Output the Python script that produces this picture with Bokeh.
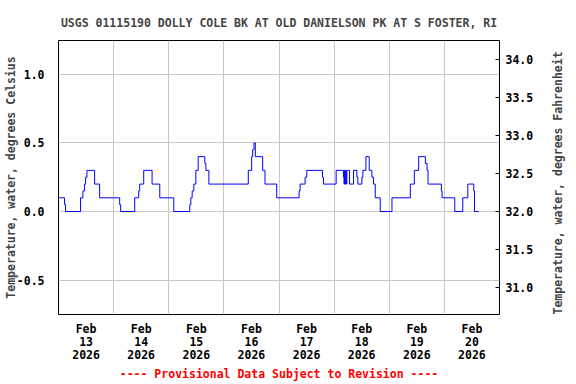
import math
import pandas as pd
from bokeh.plotting import figure
from bokeh.models import Range1d, LinearAxis, FixedTicker, PrintfTickFormatter
from bokeh.embed import file_html
from bokeh.resources import INLINE

station_title = "USGS 01115190 DOLLY COLE BK AT OLD DANIELSON PK AT S FOSTER, RI"
provisional = "---- Provisional Data Subject to Revision ----"
y_label_c = "Temperature, water, degrees Celsius"
y_label_f = "Temperature, water, degrees Fahrenheit"

start_time = "2026-02-13 00:00"
end_time = "2026-02-21 00:00"

# hours since start (change points) and water temperature, deg C
hours = [0.0, 2.63, 3.07, 9.61, 10.63, 11.36, 11.8, 12.38, 15.72, 17.9,
         26.63, 27.07, 33.18, 34.92, 35.36, 37.1, 40.74, 44.09,
         50.19, 57.18, 57.61, 58.2, 58.92, 59.8, 60.82, 63.72, 64.16, 65.47,
         82.63, 84.09, 84.52, 85.1, 85.69, 88.89, 89.9, 95.0,
         104.74, 105.18, 107.36, 108.09, 114.92, 115.36, 120.88,
         124.09, 124.3, 124.55, 124.8, 125.05, 125.3, 125.55, 125.83,
         126.71, 128.45, 129.9, 130.34, 132.09, 132.52, 133.83, 135.28,
         136.45, 137.18, 137.9, 140.08,
         145.18, 153.18, 154.92, 156.81, 159.72, 160.45, 160.89, 166.7, 167.0,
         172.53, 176.02, 178.2, 180.82, 181.1, 183.0]
temps_c = [0.1, 0.05, 0.0, 0.1, 0.15, 0.2, 0.25, 0.3, 0.2, 0.1,
           0.05, 0.0, 0.1, 0.15, 0.2, 0.3, 0.2, 0.1,
           0.0, 0.05, 0.1, 0.15, 0.2, 0.3, 0.4, 0.35, 0.3, 0.2,
           0.3, 0.4, 0.45, 0.5, 0.4, 0.3, 0.2, 0.1,
           0.15, 0.2, 0.25, 0.3, 0.25, 0.2, 0.3,
           0.25, 0.2, 0.3, 0.2, 0.3, 0.2, 0.3, 0.3,
           0.2, 0.3, 0.25, 0.2, 0.25, 0.3, 0.4, 0.3,
           0.25, 0.2, 0.1, 0.0,
           0.1, 0.2, 0.3, 0.4, 0.35, 0.3, 0.2, 0.15, 0.1,
           0.0, 0.1, 0.2, 0.15, 0.0, 0.0]

day_labels = ["Feb\n13\n2026", "Feb\n14\n2026", "Feb\n15\n2026", "Feb\n16\n2026",
              "Feb\n17\n2026", "Feb\n18\n2026", "Feb\n19\n2026", "Feb\n20\n2026"]
c_ticks = [-0.5, 0.0, 0.5, 1.0]
f_ticks = [31.0, 31.5, 32.0, 32.5, 33.0, 33.5, 34.0]
c_lo, c_hi = -0.75, 1.246

FONT = "DejaVu Sans Mono"
FS = "11.5px"

t0 = pd.Timestamp(start_time)
t1 = pd.Timestamp(end_time)
def ms(t):
    return t.value // 10**6

x = [ms(t0 + pd.Timedelta(hours=h)) for h in hours]
ndays = (t1 - t0).days
midnights = [ms(t0 + pd.Timedelta(days=d)) for d in range(ndays + 1)]
noons = [ms(t0 + pd.Timedelta(days=d, hours=12)) for d in range(ndays)]

p = figure(width=576, height=384, x_axis_type="datetime",
           x_range=Range1d(ms(t0), ms(t1)), y_range=Range1d(c_lo, c_hi),
           output_backend="svg", toolbar_location=None,
           min_border_left=58, min_border_right=77, min_border_top=40,
           min_border_bottom=68)
p.extra_y_ranges = {"f": Range1d(c_lo * 1.8 + 32, c_hi * 1.8 + 32)}

p.step(x, temps_c, mode="after", line_color="#0000ff", line_width=1)

p.outline_line_color = "black"
p.outline_line_width = 1
p.background_fill_color = "white"
p.border_fill_color = "white"

p.title.text = station_title
p.title.align = "center"
p.title.text_font = FONT
p.title.text_font_style = "bold"
p.title.text_font_size = FS
p.title.standoff = 22

p.xgrid.ticker = FixedTicker(ticks=midnights)
p.xgrid.grid_line_color = "#c8c8c8"
p.ygrid.grid_line_color = "#c8c8c8"

xa = p.xaxis[0]
xa.ticker = FixedTicker(ticks=noons)
xa.major_label_overrides = {n: lab for n, lab in zip(noons, day_labels)}
xa.major_tick_line_color = None
xa.minor_tick_line_color = None
xa.axis_line_color = None
xa.major_label_standoff = 1
xa.major_label_text_font = FONT
xa.major_label_text_font_style = "bold"
xa.major_label_text_font_size = FS
xa.major_label_text_color = "black"
xa.major_label_text_line_height = 0.96
xa.axis_label = provisional
xa.axis_label_text_font = FONT
xa.axis_label_text_font_style = "bold"
xa.axis_label_text_font_size = FS
xa.axis_label_text_color = "red"
xa.axis_label_text_line_height = 1.0
xa.axis_label_standoff = 2

ya = p.yaxis[0]
ya.ticker = FixedTicker(ticks=c_ticks)
ya.formatter = PrintfTickFormatter(format="%.1f")
ya.major_tick_line_color = None
ya.minor_tick_line_color = None
ya.axis_line_color = None
ya.major_label_standoff = 8
ya.major_label_text_font = FONT
ya.major_label_text_font_style = "bold"
ya.major_label_text_font_size = FS
ya.major_label_text_color = "black"
ya.axis_label = y_label_c
ya.axis_label_text_font = FONT
ya.axis_label_text_font_style = "bold"
ya.axis_label_text_font_size = FS
ya.axis_label_text_line_height = 1.0
ya.axis_label_standoff = -4

ra = LinearAxis(y_range_name="f", ticker=FixedTicker(ticks=f_ticks),
                formatter=PrintfTickFormatter(format="%.1f"))
ra.major_tick_in = 4
ra.major_tick_out = 0
ra.major_tick_line_color = "black"
ra.minor_tick_line_color = None
ra.axis_line_color = None
ra.major_label_standoff = 6
ra.major_label_text_font = FONT
ra.major_label_text_font_style = "bold"
ra.major_label_text_font_size = FS
ra.major_label_text_color = "black"
ra.axis_label = y_label_f
ra.axis_label_text_font = FONT
ra.axis_label_text_font_style = "bold"
ra.axis_label_text_font_size = FS
ra.axis_label_text_line_height = 1.0
ra.axis_label_standoff = 22
ra.axis_label_orientation = math.pi / 2
if "axis_label_align" in ra.properties():
    ra.axis_label_align = "start"
p.add_layout(ra, "right")

open("out.html", "w").write(file_html(p, INLINE))
